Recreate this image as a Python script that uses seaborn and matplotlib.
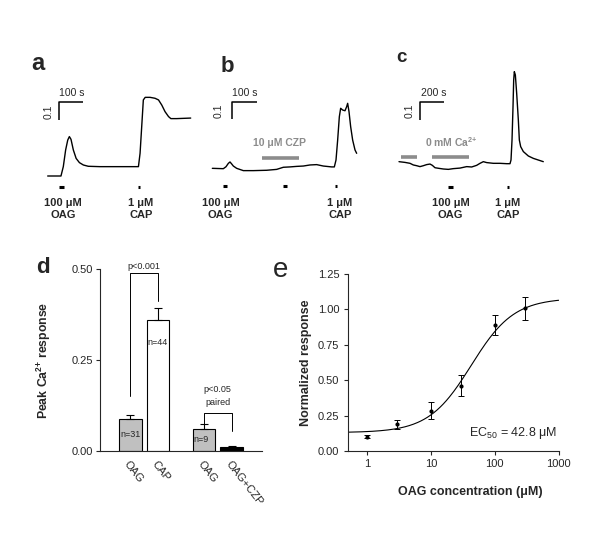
import numpy as np
import pandas as pd
import matplotlib
matplotlib.use("Agg")
import matplotlib.pyplot as plt
from matplotlib.ticker import NullLocator
import seaborn as sns

# ---- data ----
# panel a trace (time s, ratio change)
trace_a_t = [0, 24, 57, 67, 77, 86, 93, 100, 110, 122, 136, 153, 174, 224, 296, 367,
             389, 396, 403, 410, 418, 439, 460, 475, 489, 503, 518, 528, 553, 613]
trace_a_v = [0, 0, 0, 0.051, 0.142, 0.196, 0.215, 0.200, 0.142, 0.096, 0.073, 0.060,
             0.053, 0.051, 0.051, 0.051, 0.051, 0.124, 0.269, 0.415, 0.429, 0.429,
             0.424, 0.415, 0.387, 0.351, 0.324, 0.313, 0.313, 0.316]

# panel b trace
trace_b_t = [0, 44, 54.7, 64, 70.7, 77.3, 84, 97.3, 124, 164, 217.3, 257.3, 284, 310.7,
             337.3, 364, 390.7, 417.3, 444, 477.3, 488, 494.7, 501.3, 508, 513.3, 521.3,
             530.7, 537.3, 541.3, 546.7, 553.3, 561.3, 570.7, 577.3]
trace_b_v = [0, -0.002, 0.009, 0.028, 0.036, 0.025, 0.013, 0, -0.013, -0.013, -0.011,
             -0.006, 0.006, 0.008, 0.011, 0.013, 0.019, 0.021, 0.013, 0.008, 0.008,
             0.047, 0.160, 0.292, 0.340, 0.330, 0.326, 0.349, 0.368, 0.321, 0.236,
             0.160, 0.104, 0.085]

# panel c trace
trace_c_t = [0, 49.3, 90.4, 117.8, 145.2, 172.6, 200, 227.4, 254.8, 274, 295.9, 323.3,
             364.4, 405.5, 446.6, 501.4, 556.2, 597.3, 638.4, 665.8, 693.2, 720.6,
             775.4, 830.2, 885, 912.4, 920.6, 928.9, 937.1, 942.6, 948, 956.3, 967.2,
             980.9, 989.1, 1000, 1022, 1063, 1104, 1145, 1186]
trace_c_v = [0, -0.004, -0.009, -0.018, -0.022, -0.027, -0.022, -0.016, -0.013, -0.020,
             -0.033, -0.036, -0.040, -0.042, -0.038, -0.035, -0.027, -0.029, -0.020,
             -0.009, 0, -0.005, -0.009, -0.009, -0.011, -0.011, 0.009, 0.118, 0.300,
             0.445, 0.491, 0.473, 0.373, 0.227, 0.118, 0.082, 0.055, 0.031, 0.018,
             0.009, 0]

# panel d
bar_labels = ["OAG", "CAP", "OAG", "OAG+CZP"]
bar_keys = ["OAG1", "CAP", "OAG2", "CZP"]
bar_means = [0.087, 0.361, 0.060, 0.010]
bar_sem = [0.011, 0.032, 0.015, 0.003]
bar_n = ["n=31", "n=44", "n=9", ""]

# panel e
conc = [1, 3, 10, 30, 100, 300]
resp = [0.101, 0.188, 0.285, 0.462, 0.888, 1.008]
resp_err = [0.012, 0.030, 0.062, 0.074, 0.070, 0.080]
fit_bottom, fit_top, fit_ec50, fit_hill = 0.13, 1.08, 42.8, 1.3

# ---- style ----
sns.set_style("ticks")
plt.rcParams["font.family"] = ["Liberation Sans", "DejaVu Sans"]
plt.rcParams["mathtext.fontset"] = "custom"
plt.rcParams["mathtext.rm"] = "Liberation Sans"
plt.rcParams["mathtext.it"] = "Liberation Sans:italic"
plt.rcParams["mathtext.bf"] = "Liberation Sans:bold"

W, H = 600, 537
fig = plt.figure(figsize=(6, 5.37), dpi=100)
GRAY = "#8c8c8c"
CA = "Ca$^{\\mathbf{2{+}}}$"


def rect(l, t, r, b):
    return [l / W, 1 - b / H, (r - l) / W, (b - t) / H]


def ftext(x, y, s, **kw):
    fig.text(x / W, 1 - y / H, s, **kw)


def trace_axes(box, anchor, s_per_px, v_per_px):
    l, t, r, b = box
    ax = fig.add_axes(rect(l, t, r, b))
    ax.set_xlim((l - anchor[0]) * s_per_px, (r - anchor[0]) * s_per_px)
    ax.set_ylim((anchor[1] - b) * v_per_px, (anchor[1] - t) * v_per_px)
    ax.axis("off")
    return ax


def scale_bar(ax, t0, v0, dt, dv):
    ax.plot([t0, t0, t0 + dt], [v0, v0 + dv, v0 + dv], color="black", lw=1.1,
            solid_capstyle="butt")


def stim(ax, t0, t1, v):
    ax.plot([t0, t1], [v, v], color="black", lw=2.2, solid_capstyle="butt")


def stim_label(x, top, bottom):
    ftext(x, 203.5, top, ha="center", va="center", fontsize=8, fontweight="bold")
    ftext(x, 215.5, bottom, ha="center", va="center", fontsize=8, fontweight="bold")


# ---- panel a ----
ax_a = trace_axes((25, 60, 200, 225), (47.67, 176), 100 / 70 * 3, 0.1 / 55 * 3)
sns.lineplot(x=trace_a_t, y=trace_a_v, ax=ax_a, color="black", lw=1.0)
scale_bar(ax_a, 50, 0.305, 100, 0.1)
stim(ax_a, 50, 70, -0.060)
stim(ax_a, 389, 396, -0.060)
ftext(71.7, 92.7, "100 s", ha="center", va="center", fontsize=7.5)
ftext(48.3, 111.7, "0.1", ha="center", va="center", fontsize=7.5, rotation=90)
stim_label(63.3, "100 μM", "OAG")
stim_label(140.7, "1 μM", "CAP")
ftext(37.5, 70, "a", ha="center", va="baseline", fontsize=17, fontweight="bold")

# ---- panel b ----
ax_b = trace_axes((205, 60, 365, 225), (212.33, 168.33), 100 / 75 * 3, 0.1 / 53 * 3)
sns.lineplot(x=trace_b_t, y=trace_b_v, ax=ax_b, color="black", lw=1.0)
scale_bar(ax_b, 80, 0.277, 100, 0.1)
ax_b.plot([197.3, 346.7], [0.060, 0.060], color=GRAY, lw=2.6, solid_capstyle="butt")
stim(ax_b, 44, 57.3, -0.100)
stim(ax_b, 281, 300, -0.100)
stim(ax_b, 490.7, 498.7, -0.100)
ftext(245, 93.3, "100 s", ha="center", va="center", fontsize=7.5)
ftext(218.3, 110.7, "0.1", ha="center", va="center", fontsize=7.5, rotation=90)
ftext(279.3, 143.3, "10 μM CZP", ha="center", va="center", fontsize=7.5,
      fontweight="bold", color=GRAY)
stim_label(220.7, "100 μM", "OAG")
stim_label(340, "1 μM", "CAP")
ftext(227.5, 71.7, "b", ha="center", va="baseline", fontsize=16, fontweight="bold")

# ---- panel c ----
ax_c = trace_axes((385, 60, 560, 225), (399, 161.67), 200 / 73 * 3, 0.1 / 55 * 3)
sns.lineplot(x=trace_c_t, y=trace_c_v, ax=ax_c, color="black", lw=1.0)
scale_bar(ax_c, 172.6, 0.227, 200, 0.1)
ax_c.plot([16.4, 145.2], [0.024, 0.024], color=GRAY, lw=2.6, solid_capstyle="butt")
ax_c.plot([274, 575.4], [0.024, 0.024], color=GRAY, lw=2.6, solid_capstyle="butt")
stim(ax_c, 405.5, 446.6, -0.136)
stim(ax_c, 885, 901, -0.136)
ftext(433.3, 92.7, "200 s", ha="center", va="center", fontsize=7.5)
ftext(409.3, 110.7, "0.1", ha="center", va="center", fontsize=7.5, rotation=90)
ftext(451.7, 141.7, "0 mM " + CA, ha="center", va="center", fontsize=7.5,
      fontweight="bold", color=GRAY)
stim_label(450.7, "100 μM", "OAG")
stim_label(507.7, "1 μM", "CAP")
ftext(401.7, 61.7, "c", ha="center", va="baseline", fontsize=13.5, fontweight="bold")

# ---- panel d ----
bar_pos = [0, 1, 2.66, 3.66]
bar_colors = {"OAG1": "#c0c0c0", "CAP": "white", "OAG2": "#c0c0c0", "CZP": "black"}
ax_d = fig.add_axes(rect(100, 269.3, 262, 451))
df_d = pd.DataFrame({"pos": bar_pos, "val": bar_means, "key": bar_keys})
sns.barplot(data=df_d, x="pos", y="val", hue="key", palette=bar_colors,
            native_scale=True, dodge=False, width=0.82, edgecolor="black",
            linewidth=0.8, legend=False, errorbar=None, ax=ax_d)
ax_d.errorbar(bar_pos, bar_means, yerr=[[0] * 4, bar_sem], fmt="none",
              ecolor="black", elinewidth=0.8, capsize=3, capthick=0.8)
ax_d.set_xlim(-1.094, 4.755)
ax_d.set_ylim(0, 0.5)
ax_d.set_yticks([0, 0.25, 0.5], ["0.00", "0.25", "0.50"])
ax_d.set_xticks(bar_pos, bar_labels, rotation=-52, ha="left", va="top",
                rotation_mode="anchor")
ax_d.tick_params(axis="x", length=0, labelsize=8, pad=6)
ax_d.tick_params(axis="y", length=3, width=0.8, labelsize=8, pad=2)
for s in ["top", "right"]:
    ax_d.spines[s].set_visible(False)
for s in ["left", "bottom"]:
    ax_d.spines[s].set_linewidth(0.8)
ax_d.set_xlabel("")
ax_d.set_ylabel("Peak " + CA + " response", fontsize=8.8, fontweight="bold")
ax_d.yaxis.set_label_coords(-0.29, 0.5)
for p, v, lab in zip(bar_pos, bar_means, bar_n):
    if lab:
        yy = v * 0.53 if v < 0.2 else v - 0.062
        ax_d.text(p - (0.1 if lab == "n=9" else 0), yy, lab, ha="center",
                  va="center", fontsize=6.5)
ax_d.plot([0, 0, 1, 1], [0.151, 0.489, 0.489, 0.413], color="black", lw=0.7,
          clip_on=False)
ax_d.text(0.5, 0.509, "p<0.001", ha="center", va="center", fontsize=6.5)
ax_d.plot([2.66, 2.66, 3.66, 3.66], [0.072, 0.104, 0.104, 0.056], color="black",
          lw=0.7, clip_on=False)
ax_d.text(3.16, 0.168, "p<0.05", ha="center", va="center", fontsize=6.5)
ax_d.text(3.16, 0.134, "paired", ha="center", va="center", fontsize=6.5)
ftext(42.5, 273.3, "d", ha="center", va="baseline", fontsize=16, fontweight="bold")

# ---- panel e ----
ax_e = fig.add_axes(rect(347.7, 274, 558.7, 451))
ax_e.set_xscale("log")
x_fit = np.logspace(np.log10(0.5), 3, 200)
y_fit = fit_bottom + (fit_top - fit_bottom) / (1 + (fit_ec50 / x_fit) ** fit_hill)
sns.lineplot(x=x_fit, y=y_fit, ax=ax_e, color="black", lw=0.8)
ax_e.errorbar(conc, resp, yerr=resp_err, fmt="none", ecolor="black",
              elinewidth=0.7, capsize=2.5, capthick=0.7)
sns.scatterplot(x=conc, y=resp, ax=ax_e, color="black", s=9, edgecolor="black",
                linewidth=0)
ax_e.set_xlim(0.5, 1000)
ax_e.set_ylim(0, 1.25)
ax_e.set_xticks([1, 10, 100, 1000], ["1", "10", "100", "1000"])
ax_e.xaxis.set_minor_locator(NullLocator())
ax_e.set_yticks([0, 0.25, 0.5, 0.75, 1.0, 1.25],
                ["0.00", "0.25", "0.50", "0.75", "1.00", "1.25"])
ax_e.tick_params(length=3, width=0.8, labelsize=8, pad=3)
for s in ["top", "right"]:
    ax_e.spines[s].set_visible(False)
for s in ["left", "bottom"]:
    ax_e.spines[s].set_linewidth(0.8)
ax_e.set_xlabel("OAG concentration (μM)", fontsize=9, fontweight="bold")
ax_e.xaxis.set_label_coords(0.58, -0.20)
ax_e.set_ylabel("Normalized response", fontsize=9, fontweight="bold")
ax_e.yaxis.set_label_coords(-0.17, 0.5)
ax_e.text(40, 0.13, "EC$_{50}$ = 42.8 μM", ha="left", va="center", fontsize=9)
ftext(281, 276.7, "e", ha="center", va="baseline", fontsize=20)

fig.savefig("out.png", dpi=100)
